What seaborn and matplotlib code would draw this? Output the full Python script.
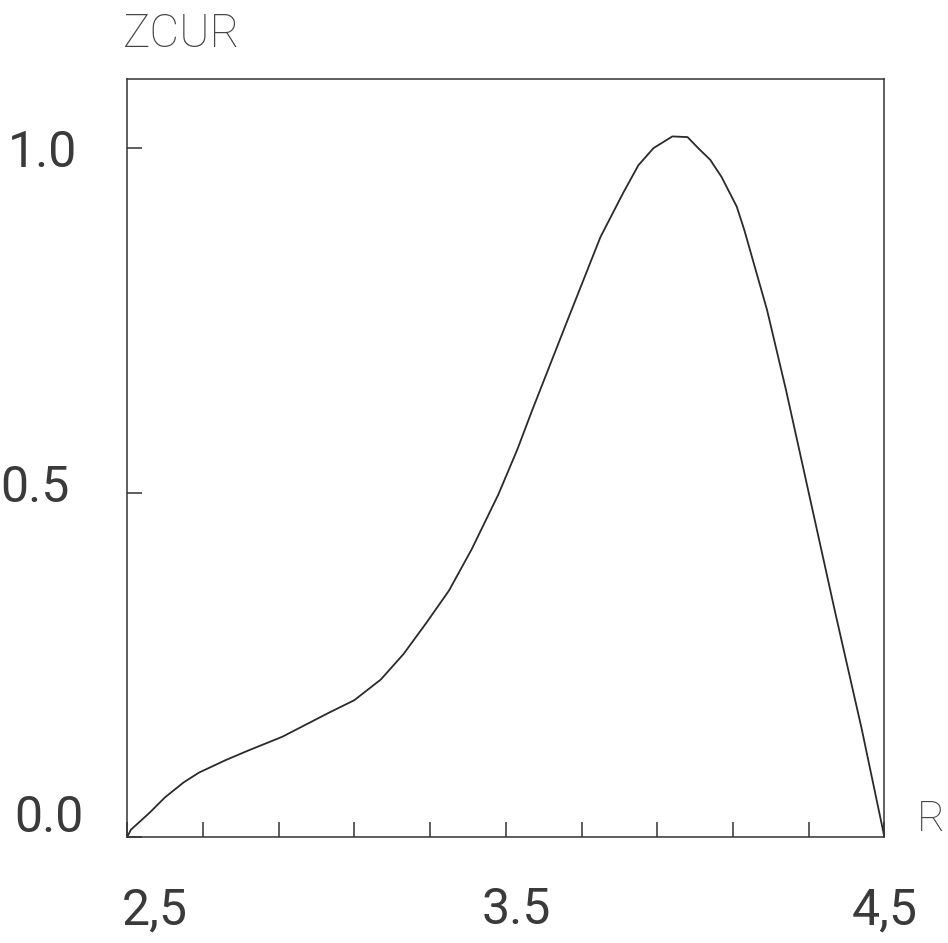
import numpy as np
import pandas as pd
import matplotlib.pyplot as plt
import matplotlib.transforms as mtransforms
from matplotlib import font_manager
import seaborn as sns

# curve
r_vals = [2.50, 2.51, 2.56, 2.60, 2.65, 2.69, 2.76, 2.82, 2.91, 3.03, 3.10, 3.17,
          3.23, 3.29, 3.35, 3.41, 3.48, 3.53, 3.57, 3.66, 3.75, 3.81, 3.85, 3.89,
          3.94, 3.98, 4.01, 4.04, 4.07, 4.11, 4.13, 4.19, 4.24, 4.30, 4.37, 4.44,
          4.50]
zcur_vals = [0.0, 0.011, 0.036, 0.058, 0.080, 0.094, 0.112, 0.126, 0.146, 0.180,
             0.199, 0.229, 0.266, 0.311, 0.358, 0.418, 0.497, 0.562, 0.620, 0.746,
             0.871, 0.935, 0.975, 1.000, 1.017, 1.016, 0.999, 0.983, 0.958, 0.915,
             0.881, 0.765, 0.649, 0.500, 0.326, 0.157, 0.0]

x_ticks = [2.5, 2.7, 2.9, 3.1, 3.3, 3.5, 3.7, 3.9, 4.1, 4.3, 4.5]
x_ticklabels = ["2,5", "", "", "", "", "3.5", "", "", "", "", "4,5"]
y_ticks = [0.0, 0.5, 1.0]
y_ticklabels = ["0.0", "0.5", "1.0"]

df = pd.DataFrame({"R": r_vals, "ZCUR": zcur_vals})

sns.set_style("white")
names = {f.name for f in font_manager.fontManager.ttflist}
num_font = ['Liberation Sans Narrow'] if 'Liberation Sans Narrow' in names else ['Roboto']
plt.rcParams['font.family'] = num_font + ['DejaVu Sans']
plt.rcParams['font.stretch'] = 'condensed'

fig = plt.figure(figsize=(9.48, 9.43), dpi=100)
ax = fig.add_axes([0.134, 0.112, 0.799, 0.804])

sns.lineplot(data=df, x="R", y="ZCUR", sort=False, color="#2a2a2a", linewidth=1.3, ax=ax)

ax.set_xlim(2.5, 4.5)
ax.set_ylim(0, 1.1)
for s in ax.spines.values():
    s.set_visible(True)
    s.set_color("#333333")
    s.set_linewidth(1.1)

ax.set_xticks(x_ticks)
ax.set_xticklabels(x_ticklabels)
ax.set_yticks(y_ticks)
ax.set_yticklabels(y_ticklabels)
ax.tick_params(axis="both", direction="in", length=11, width=1.1, color="#333333",
               labelsize=36, labelcolor="#3a3a3a", bottom=True, left=True)
ax.tick_params(axis="x", pad=35)
ax.tick_params(axis="y", pad=36)

# hand-placed label nudges (px)
def nudge(lbl, dx, dy):
    off = mtransforms.ScaledTranslation(dx / 100, dy / 100, fig.dpi_scale_trans)
    lbl.set_transform(lbl.get_transform() + off)

xl = ax.get_xticklabels()
nudge(xl[0], 28, 0)
nudge(xl[5], 11, 0)
yl = ax.get_yticklabels()
nudge(yl[0], 7, 24)
nudge(yl[1], -7, 10)

ax.set_ylabel("ZCUR", rotation=0, fontsize=33, fontweight='light',
              color="#444444", ha="left", va="center")
ax.yaxis.set_label_coords(-0.006, 1.059)
ax.set_xlabel("R", fontsize=31, fontweight='light',
              color="#444444", ha="center", va="center")
ax.xaxis.set_label_coords(1.061, 0.023)

fig.savefig("out.png", dpi=100, facecolor="white")
